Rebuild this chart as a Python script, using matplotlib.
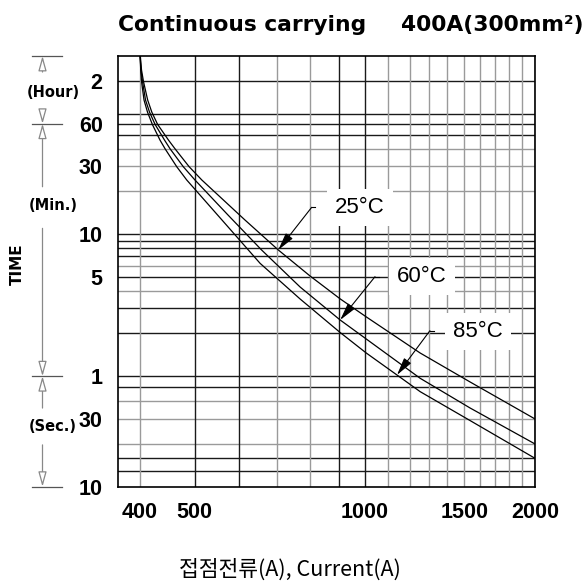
import matplotlib.pyplot as plt
from matplotlib import transforms

# curve readings: current (A) vs time (s)
current_25 = [400.7, 402.8, 406, 413, 420, 430, 449.6, 461.6, 489, 515, 614, 703, 800, 905, 1006,
              1253, 1536, 2000]
time_25 = [10800, 8600, 7150, 5290, 4350, 3565, 2760, 2400, 1793, 1445, 755, 465, 305, 210, 157,
           87.4, 54.6, 30]

current_60 = [400.5, 401.9, 404.4, 409.4, 416.1, 425.6, 442.4, 452.4, 477.5, 500.8, 572.9, 656.9,
              768.5, 904.5, 1006, 1253, 1536, 2000]
time_60 = [10800, 8600, 7150, 5290, 4350, 3565, 2760, 2400, 1793, 1445, 819, 464.5,
           254.8, 149.3, 109.7, 58, 35.8, 20]

current_85 = [400.4, 401.5, 402.8, 406.9, 412.7, 420.9, 434.3, 443.3, 464.9, 484.3, 559.1, 652.8,
              768.5, 904.5, 1006, 1140, 1253, 1536, 2000]
time_85 = [10800, 8600, 7150, 5290, 4350, 3565, 2760, 2400, 1793, 1445, 755, 374.3,
           209.8, 121.9, 87.4, 61.2, 46.7, 29.2, 15.85]

# axis ticks (time in seconds)
ytick_vals = [10, 30, 60, 300, 600, 1800, 3600, 7200]
ytick_labels = ['10', '30', '1', '5', '10', '30', '60', '2']
xtick_vals = [400, 500, 1000, 1500, 2000]
xtick_labels = ['400', '500', '1000', '1500', '2000']

# grid lines
hgrid = [7200, 4200, 3600, 3000, 2400, 1800, 1200, 600, 540, 480, 420, 360,
         300, 240, 180, 120, 60, 50, 40, 30, 20, 16, 13]
hgrid_dark = [1, 1, 1, 1, 0, 0, 0, 1, 1, 1, 1, 0, 1, 0, 1, 1, 1, 1, 0, 0, 0, 1, 1]
vgrid = list(range(400, 2001, 100))
vgrid_dark = [0, 1, 1, 0, 0, 1, 1, 0, 0, 0, 0, 0, 0, 0, 0, 0, 1]

labels = ['25°C', '60°C', '85°C']
label_tips = [(703, 465), (904.5, 149.3), (1140, 61.2)]

DARK = '#1a1a1a'
GRAY = '#9a9a9a'

fig = plt.figure(figsize=(5.85, 5.82), dpi=100)
ax = fig.add_axes([118 / 585, 1 - 486.7 / 582, 417 / 585, 430.7 / 582])
ax.set_xscale('log')
ax.set_yscale('log')
ax.set_xlim(366, 2000)
ax.set_ylim(10, 10800)

for v, d in zip(hgrid, hgrid_dark):
    ax.axhline(v, color=DARK if d else GRAY, lw=1.0, zorder=1)
for v, d in zip(vgrid, vgrid_dark):
    ax.axvline(v, color=DARK if d else GRAY, lw=1.0, zorder=1)

for cur, t in [(current_25, time_25), (current_60, time_60), (current_85, time_85)]:
    ax.plot(cur, t, color='black', lw=0.9, zorder=3)

ax.minorticks_off()
ax.set_yticks(ytick_vals)
ax.set_yticklabels(ytick_labels)
ax.set_xticks(xtick_vals)
ax.set_xticklabels(xtick_labels)
ax.tick_params(length=0, labelsize=15.5, pad=11)
for lab in ax.get_xticklabels() + ax.get_yticklabels():
    lab.set_fontweight('bold')
    lab.set_fontfamily('Liberation Sans')
for sp in ax.spines.values():
    sp.set_color('black')
    sp.set_linewidth(1.2)
    sp.set_zorder(4)

# temperature labels with leader arrows
text_pos = [(0.580, 0.648), (0.729, 0.488), (0.8633, 0.3603)]
elbow_pos = [(0.4645, 0.6487), (0.6163, 0.4876), (0.748, 0.3622)]
for lab, tip, tp, ep in zip(labels, label_tips, text_pos, elbow_pos):
    ax.text(tp[0], tp[1], lab, transform=ax.transAxes, ha='center', va='center',
            fontsize=16, family=['Liberation Sans Narrow', 'Liberation Sans'], zorder=6,
            bbox=dict(boxstyle='square,pad=0.35', fc='white', ec='none'))
    ax.plot([ep[0], ep[0] + 0.009], [ep[1], ep[1]], transform=ax.transAxes,
            color='black', lw=0.8, zorder=5)
    ax.annotate('', xy=tip, xycoords='data', xytext=ep, textcoords='axes fraction',
                arrowprops=dict(arrowstyle='-|>,head_length=0.9,head_width=0.22',
                                color='black', lw=0.8, mutation_scale=12,
                                shrinkA=0, shrinkB=0), zorder=5)

# left side time-unit dimension lines
trans = transforms.blended_transform_factory(fig.transFigure, ax.transData)
xl = 42.5 / 585
for yv in [10800, 3600, 60, 10]:
    ax.plot([31.7 / 585, 61.7 / 585], [yv, yv], transform=trans, color='#555555',
            lw=0.9, clip_on=False)
segments = [(8326, 10800), (4375, 3600), (1296, 3600), (660, 60), (35.8, 60), (19.7, 10)]
for y0, y1 in segments:
    ax.annotate('', xy=(xl, y1), xycoords=trans, xytext=(xl, y0), textcoords=trans,
                arrowprops=dict(arrowstyle='-|>,head_length=0.9,head_width=0.25',
                                color='#888888', fc='white', lw=0.9, mutation_scale=10,
                                shrinkA=0, shrinkB=0), annotation_clip=False)
for txt, yv in [('(Hour)', 5990), ('(Min.)', 963), ('(Sec.)', 26.5)]:
    ax.text(53 / 585, yv, txt, transform=trans, ha='center', va='center',
            fontsize=10.5, fontweight='bold', family='DejaVu Sans')

fig.text(17 / 585, 1 - 264 / 582, 'TIME', rotation=90, ha='center', va='center',
         fontsize=11, fontweight='bold', family='DejaVu Sans')

fig.text(118 / 585, 1 - 25 / 582, 'Continuous carrying', ha='left', va='center',
         fontsize=15.7, fontweight='bold', family='DejaVu Sans')
fig.text(583 / 585, 1 - 25 / 582, '400A(300mm²)', ha='right', va='center',
         fontsize=15.7, fontweight='bold', family='DejaVu Sans')

fig.text(290 / 585, 1 - 570 / 582, '접점전류(A), Current(A)', ha='center', va='center',
         fontsize=15.5, family=['Noto Sans CJK KR', 'DejaVu Sans'])

fig.savefig('out.png', dpi=100)
